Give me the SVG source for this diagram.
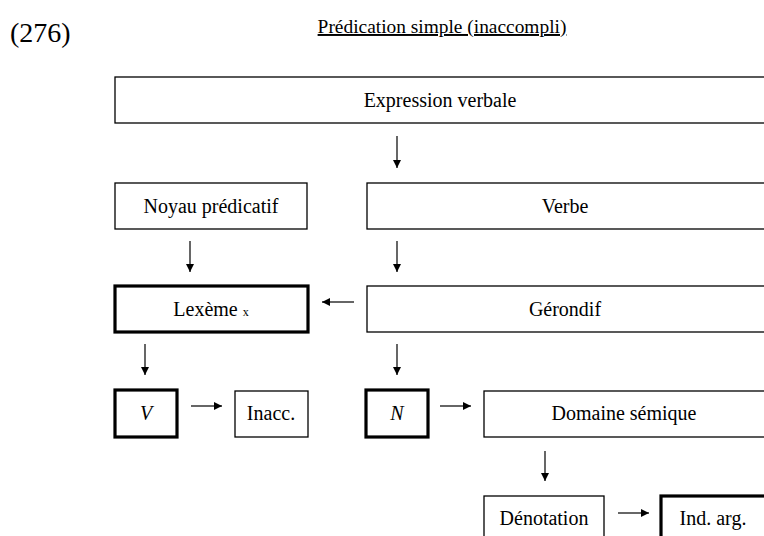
<svg xmlns="http://www.w3.org/2000/svg" width="764" height="536" viewBox="0 0 764 536">
<defs>
<marker id="ah" viewBox="0 0 10 10" refX="10" refY="5" markerWidth="8" markerHeight="8" markerUnits="userSpaceOnUse" orient="auto"><path d="M0,0 L10,5 L0,10 Z" fill="#000"/></marker>
<style>
.b{fill:#fff;stroke:#000;stroke-width:1.3}
.t{fill:#fff;stroke:#000;stroke-width:3.2}
text{font-family:"Liberation Serif","Times New Roman",serif;fill:#000}
.l{font-size:20px;text-anchor:middle}
.c line{stroke:#000;stroke-width:1.2;marker-end:url(#ah)}
</style>
</defs>
<rect width="764" height="536" fill="#fff"/>
<text x="10" y="42" style="font-size:28px">(276)</text>
<text x="442" y="33" style="font-size:19.4px;text-anchor:middle;text-decoration:underline">Prédication simple (inaccompli)</text>
<g id="expression"><rect class="b" x="115" y="77" width="660" height="46"/><text class="l" x="440" y="107">Expression verbale</text></g>
<g id="noyau"><rect class="b" x="115" y="183" width="192" height="46"/><text class="l" x="211" y="213">Noyau prédicatif</text></g>
<g id="verbe"><rect class="b" x="367" y="183" width="410" height="46"/><text class="l" x="565" y="213">Verbe</text></g>
<g id="lexeme"><rect class="t" x="115" y="286" width="193" height="46"/><text class="l" x="211" y="316">Lexème <tspan style="font-size:12px">x</tspan></text></g>
<g id="gerondif"><rect class="b" x="367" y="286" width="410" height="46"/><text class="l" x="565" y="316">Gérondif</text></g>
<g id="v"><rect class="t" x="115" y="390" width="62" height="47"/><text class="l" x="146" y="420" font-style="italic">V</text></g>
<g id="inacc"><rect class="b" x="235" y="391" width="73" height="46"/><text class="l" x="271" y="420">Inacc.</text></g>
<g id="n"><rect class="t" x="366" y="390" width="62" height="47"/><text class="l" x="397" y="420" font-style="italic">N</text></g>
<g id="domaine"><rect class="b" x="484" y="391" width="290" height="46"/><text class="l" x="624" y="420">Domaine sémique</text></g>
<g id="denotation"><rect class="b" x="484" y="496" width="120" height="50"/><text class="l" x="544" y="525">Dénotation</text></g>
<g id="indarg"><rect class="t" x="661" y="496" width="120" height="50"/><text class="l" x="713" y="525">Ind. arg.</text></g>
<g class="c" id="connectors">
<line x1="397" y1="136" x2="397" y2="168"/>
<line x1="190" y1="241" x2="190" y2="272"/>
<line x1="397" y1="241" x2="397" y2="272"/>
<line x1="354" y1="302" x2="322" y2="302"/>
<line x1="145" y1="344" x2="145" y2="375"/>
<line x1="397" y1="344" x2="397" y2="375"/>
<line x1="191" y1="406" x2="222" y2="406"/>
<line x1="440" y1="406" x2="471" y2="406"/>
<line x1="545" y1="451" x2="545" y2="481"/>
<line x1="618" y1="513" x2="649" y2="513"/>
</g>
</svg>
